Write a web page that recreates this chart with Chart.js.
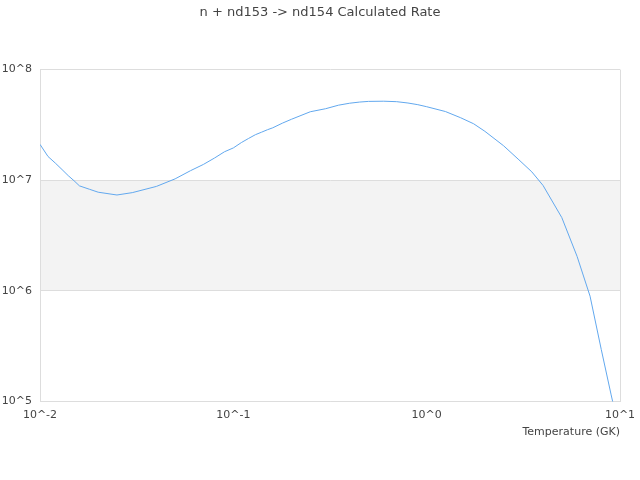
<!DOCTYPE html>
<html>
<head>
<meta charset="utf-8">
<script src="https://cdn.jsdelivr.net/npm/chart.js@4/dist/chart.umd.min.js"></script>
<style>
html,body{margin:0;padding:0;background:#fff;}
#wrap{width:640px;height:480px;}
</style>
</head>
<body>
<div id="wrap"><canvas id="c"></canvas></div>
<script>
const temperatures = [0.01,0.011,0.012,0.013,0.014,0.015,0.016,0.018,0.02,0.025,0.03,0.04,0.05,0.06,0.07,0.08,0.09,0.1,0.11,0.12,0.13,0.14,0.15,0.16,0.18,0.2,0.25,0.3,0.35,0.4,0.45,0.5,0.6,0.7,0.8,0.9,1,1.25,1.5,1.75,2,2.5,3,3.5,4,5,6,7,8,9,10];
const rates = [2.11e7,1.64e7,1.43e7,1.25e7,1.10e7,9.9e6,8.9e6,8.3e6,7.8e6,7.36e6,7.73e6,8.8e6,1.03e7,1.22e7,1.39e7,1.59e7,1.81e7,1.96e7,2.19e7,2.39e7,2.58e7,2.72e7,2.86e7,2.98e7,3.29e7,3.56e7,4.16e7,4.43e7,4.77e7,4.97e7,5.09e7,5.16e7,5.18e7,5.13e7,4.99e7,4.82e7,4.62e7,4.18e7,3.67e7,3.24e7,2.77e7,2.05e7,1.53e7,1.19e7,8.97e6,4.6e6,2.05e6,8.97e5,2.96e5,1.15e5,5.1e4];
const xTicks = [0.01,0.1,1,10];
const yTicks = [1e5,1e6,1e7,1e8];
const titleText = 'n + nd153 -> nd154 Calculated Rate';
const xTitle = 'Temperature (GK)';

const fmt = v => '10^' + Math.round(Math.log10(v));

const bandPlugin = {
  id: 'bands',
  beforeDraw(chart) {
    const {ctx, chartArea, scales} = chart;
    const y = scales.y;
    ctx.save();
    ctx.fillStyle = '#f3f3f3';
    const top = y.getPixelForValue(1e7), bot = y.getPixelForValue(1e6);
    ctx.fillRect(chartArea.left, top, chartArea.right - chartArea.left, bot - top);
    ctx.restore();
  },
  afterDatasetsDraw(chart) {
    const {ctx, chartArea} = chart;
    ctx.save();
    ctx.strokeStyle = '#dddddd';
    ctx.lineWidth = 1;
    ctx.beginPath();
    ctx.moveTo(Math.round(chartArea.right) + 0.5, chartArea.top);
    ctx.lineTo(Math.round(chartArea.right) + 0.5, chartArea.bottom);
    ctx.stroke();
    ctx.restore();
  }
};

new Chart(document.getElementById('c'), {
  type: 'line',
  data: {
    datasets: [{
      data: temperatures.map((t, i) => ({x: t, y: rates[i]})),
      borderColor: '#62a8ee',
      borderWidth: 1,
      pointRadius: 0,
      fill: false,
      tension: 0
    }]
  },
  options: {
    responsive: true,
    maintainAspectRatio: false,
    animation: false,
    layout: {padding: {left: 0, right: 0, top: 0, bottom: 37}},
    plugins: {
      legend: {display: false},
      tooltip: {enabled: false},
      title: {
        display: true,
        text: titleText,
        color: '#444',
        font: {family: 'DejaVu Sans', size: 13, weight: 'normal'},
        padding: {top: 5, bottom: 49}
      }
    },
    scales: {
      x: {
        type: 'logarithmic',
        min: 0.01, max: 10,
        afterBuildTicks: s => { s.ticks = xTicks.map(v => ({value: v})); },
        afterFit: s => { s.paddingRight = 20; s.paddingLeft = 0; },
        ticks: {
          callback: v => fmt(v),
          color: '#444',
          font: {family: 'DejaVu Sans', size: 11},
          padding: 7,
          maxRotation: 0,
          autoSkip: false
        },
        grid: {display: false, drawTicks: false},
        border: {display: true, color: '#dddddd'},
        title: {
          display: true,
          text: xTitle,
          align: 'end',
          color: '#444',
          font: {family: 'DejaVu Sans', size: 11},
          padding: {top: -3, bottom: 4}
        }
      },
      y: {
        type: 'logarithmic',
        min: 1e5, max: 1e8,
        afterBuildTicks: s => { s.ticks = yTicks.map(v => ({value: v})); },
        afterFit: s => { s.width = 40; },
        ticks: {
          callback: v => fmt(v),
          color: '#444',
          font: {family: 'DejaVu Sans', size: 11},
          padding: 8,
          autoSkip: false
        },
        grid: {color: '#dddddd', drawTicks: false},
        border: {display: true, color: '#dddddd'}
      }
    }
  },
  plugins: [bandPlugin]
});
</script>
</body>
</html>
